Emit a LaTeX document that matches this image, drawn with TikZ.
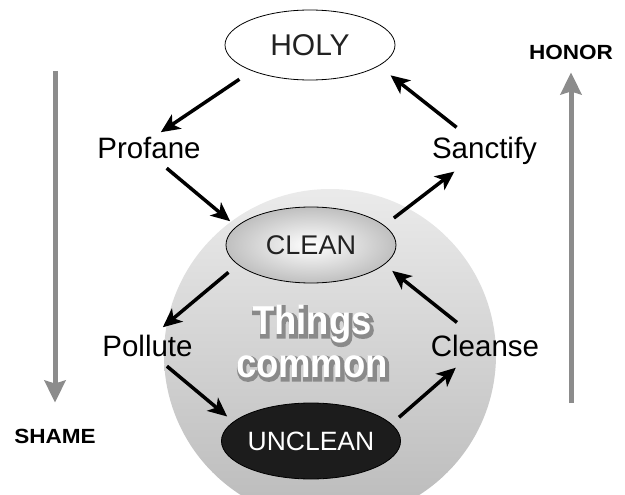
\documentclass[tikz,border=0pt]{standalone}
\usepackage{fontspec}
\setmainfont{Liberation Sans}
\newfontfamily\condfont[FakeStretch=0.9]{Liberation Sans Bold}
\newfontfamily\glowfont[FakeStretch=0.9, FakeBold=10]{Liberation Sans Bold}
\newfontfamily\widefont[FakeStretch=1.1]{Liberation Sans Bold}
\usetikzlibrary{shapes.geometric,arrows.meta}

\definecolor{bargray}{HTML}{8C8C8C}
\definecolor{inkfill}{HTML}{1C1C1C}
\definecolor{darktext}{HTML}{222222}
\definecolor{glowgray}{HTML}{8A8A8A}

\begin{document}
\begin{tikzpicture}[
        x=1pt, y=-1pt,
        state/.style={draw, ellipse, minimum width=170pt, minimum height=70pt, inner sep=0pt, line width=0.8pt, text=darktext},
        act/.style={anchor=base, inner sep=2pt, text=black, font=\fontsize{29.5}{30}\selectfont},
        things/.style={align=center, inner sep=0pt, font=\condfont\fontsize{40.5}{43}\selectfont},
        tag/.style={inner sep=2pt, font=\widefont\fontsize{20.5}{21}\selectfont},
        arr/.style={-{Stealth[length=19pt,width=17pt,inset=5pt]}, line width=3.5pt},
        bar/.style={-{Stealth[length=22pt,width=21pt,inset=3pt]}, line width=5pt, draw=bargray},
    ]
    \useasboundingbox (0,0) rectangle (625,495);
    % common ground
    \shade[top color=black!8, bottom color=black!27] (330,355) circle [radius=166];

    \node[state, font=\fontsize{30}{30}\selectfont] (holy) at (310,45) {HOLY};
    \node[state, minimum height=76pt, inner color=white, outer color=gray!50, font=\fontsize{27}{27}\selectfont] (clean) at (311,245) {CLEAN};
    \node[state, minimum height=76pt, fill=inkfill, text=white, font=\fontsize{26.5}{27}\selectfont] (unclean) at (311,441) {UNCLEAN};

    \node[act] (profane) at (149,158) {Profane};
    \node[act] (sanctify) at (484.5,159) {Sanctify};
    \node[act] (pollute) at (147.5,356) {Pollute};
    \node[act] (cleanse) at (485,356) {Cleanse};

    \node[things, font=\glowfont\fontsize{40.5}{43}\selectfont, text=glowgray] (glow) at (313.5,343.5) {Things\\common};
    \node[things, text=white] (common) at (312,341.7) {Things\\common};

    \draw[arr, shorten <=15pt, shorten >=4pt] (holy.204) -- (profane.57);
    \draw[arr, shorten <=12pt, shorten >=8pt] (profane.303) -- (clean.166);
    \draw[arr, shorten <=12pt, shorten >=7pt] (clean.15) -- (sanctify.213);
    \draw[arr, shorten <=13pt, shorten >=15pt] (sanctify.138) -- (holy.343);
    \draw[arr, shorten <=12pt, shorten >=8pt] (clean.195) -- (pollute.55);
    \draw[arr, shorten <=12pt, shorten >=8pt] (pollute.308) -- (unclean.166);
    \draw[arr, shorten <=10pt, shorten >=14pt] (unclean.12) -- (cleanse.215);
    \draw[arr, shorten <=16pt, shorten >=10pt] (cleanse.140) -- (clean.345);

    \node[tag] (shame) at (55,436) {SHAME};
    \node[tag] (honor) at (571,52) {HONOR};
    \coordinate (shamestart) at (55,71);
    \coordinate (honorstart) at (571,403);
    \draw[bar, shorten >=24pt] (shamestart) -- (shame.north);
    \draw[bar, shorten >=11pt] (honorstart) -- (honor.south);
\end{tikzpicture}
\end{document}
